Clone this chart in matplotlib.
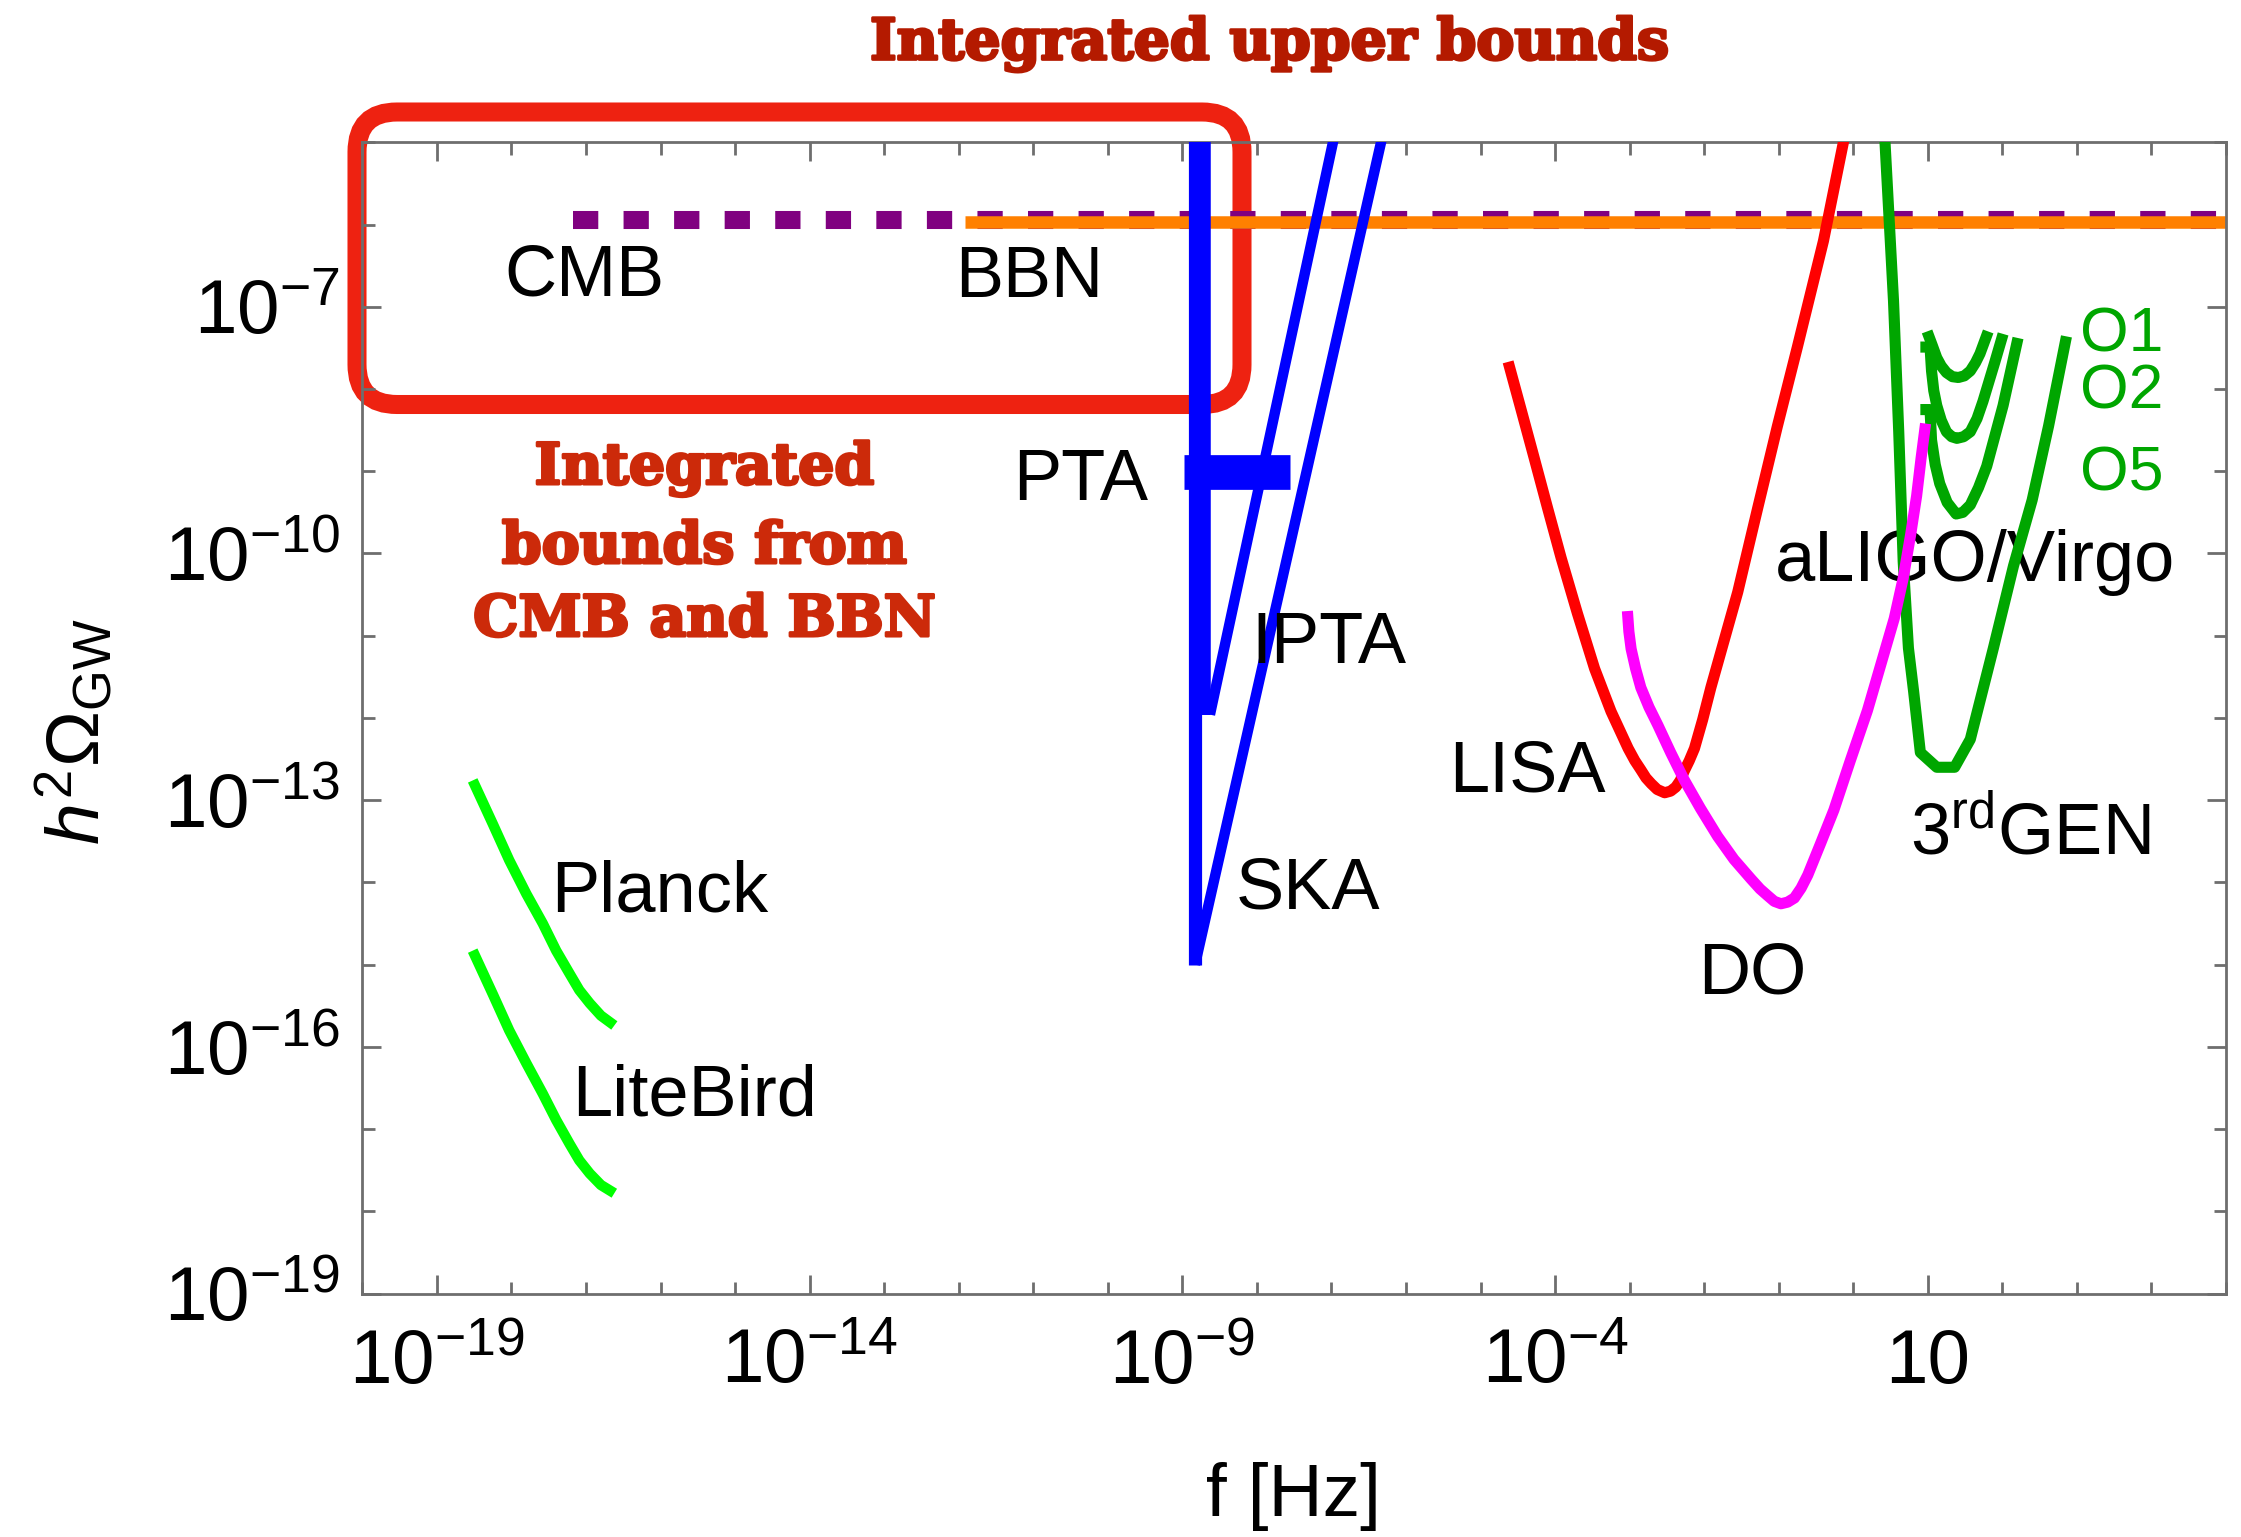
import numpy as np
import matplotlib
matplotlib.use('Agg')
import matplotlib.pyplot as plt
import matplotlib.patheffects as pe
from matplotlib.patches import FancyBboxPatch
from matplotlib.ticker import FixedLocator, FuncFormatter, NullFormatter

plt.rcParams['font.family'] = ['Liberation Sans', 'DejaVu Sans']
plt.rcParams['mathtext.fontset'] = 'custom'
plt.rcParams['mathtext.rm'] = 'Liberation Sans'
plt.rcParams['mathtext.it'] = 'Liberation Sans:italic'
plt.rcParams['mathtext.bf'] = 'Liberation Sans:bold'

### curves, as log10(f [Hz]) and log10(h^2 Omega_GW)
cmb_logf = [-17.17, 5.0]
cmb_logo = [-5.94, -5.94]
bbn_logf = [-11.91, 5.0]
bbn_logo = [-5.97, -5.97]

planck_logf = [-18.52, -18.25, -18.03, -17.80, -17.58, -17.40, -17.22, -17.09, -16.95, -16.80, -16.62]
planck_logo = [-12.76, -13.29, -13.73, -14.14, -14.50, -14.83, -15.11, -15.31, -15.47, -15.62, -15.74]
litebird_logf = [-18.52, -18.25, -18.03, -17.80, -17.58, -17.40, -17.22, -17.09, -16.95, -16.80, -16.62]
litebird_logo = [-14.83, -15.36, -15.80, -16.20, -16.57, -16.89, -17.18, -17.38, -17.54, -17.68, -17.78]

pta_logf = [-8.77, -8.77]
pta_logo = [-4.9, -11.96]
pta_bar_logf = [-8.98, -7.55]
pta_bar_logo = [-9.01, -9.01]
ipta_logf = [-8.63, -6.956]
ipta_logo = [-11.96, -4.9]
ska_edge_logf = [-8.83, -8.83]
ska_edge_logo = [-4.9, -15.0]
ska_logf = [-8.83, -6.31]
ska_logo = [-15.0, -4.9]

lisa_logf = [-4.63, -4.45, -4.28, -4.10, -3.92, -3.70, -3.47, -3.25, -3.02, -2.93, -2.85, -2.78,
             -2.71, -2.63, -2.53, -2.45, -2.38, -2.32, -2.27, -2.20, -2.13, -2.02, -1.91, -1.73,
             -1.55, -1.28, -1.02, -0.75, -0.40, -0.11]
lisa_logo = [-7.67, -8.27, -8.84, -9.45, -10.05, -10.73, -11.40, -11.92, -12.37, -12.52, -12.63, -12.73,
             -12.80, -12.87, -12.91, -12.89, -12.84, -12.76, -12.65, -12.52, -12.37, -12.02, -11.63, -11.05,
             -10.47, -9.44, -8.46, -7.49, -6.20, -4.90]

do_logf = [-3.03, -3.01, -2.98, -2.92, -2.85, -2.74, -2.62, -2.45, -2.27, -2.05, -1.82, -1.60,
           -1.37, -1.25, -1.15, -1.06, -0.97, -0.88, -0.79, -0.70, -0.61, -0.44, -0.26, -0.04,
           0.19, 0.37, 0.55, 0.67, 0.77, 0.85, 0.91, 0.97]
do_logo = [-10.70, -10.95, -11.16, -11.40, -11.63, -11.87, -12.09, -12.42, -12.75, -13.10, -13.44, -13.72,
           -13.96, -14.08, -14.16, -14.23, -14.26, -14.24, -14.19, -14.07, -13.91, -13.53, -13.12, -12.52,
           -11.91, -11.35, -10.79, -10.30, -9.77, -9.30, -8.84, -8.42]

gen3_logf = [0.42, 0.54, 0.61, 0.67, 0.74, 0.81, 0.90, 1.12, 1.36, 1.57, 1.88, 2.15, 2.40, 2.62, 2.86]
gen3_logo = [-4.9, -6.93, -8.52, -10.10, -11.15, -11.68, -12.42, -12.60, -12.60, -12.26,
             -11.15, -10.15, -9.35, -8.45, -7.36]

o1_logf = [0.99, 1.06, 1.12, 1.18, 1.25, 1.33, 1.41, 1.49, 1.57, 1.64, 1.70, 1.81]
o1_logo = [-7.30, -7.47, -7.62, -7.72, -7.80, -7.85, -7.86, -7.84, -7.78, -7.68, -7.57, -7.30]
o2_logf = [0.90, 1.03, 1.05, 1.08, 1.12, 1.18, 1.25, 1.32, 1.39, 1.48, 1.57, 1.66, 1.74, 1.90, 2.01]
o2_logo = [-7.49, -7.49, -7.78, -8.02, -8.20, -8.38, -8.52, -8.58, -8.60, -8.58, -8.52, -8.36, -8.15, -7.67, -7.33]
o5_logf = [0.90, 1.03, 1.05, 1.10, 1.16, 1.26, 1.38, 1.47, 1.57, 1.68, 1.79, 2.01, 2.21]
o5_logo = [-8.25, -8.25, -8.62, -8.92, -9.15, -9.38, -9.52, -9.50, -9.41, -9.20, -8.94, -8.20, -7.38]

x_major = [-19, -14, -9, -4, 1]
y_major = [-19, -16, -13, -10, -7]


def draw(logf, logo, **kw):
    kw.setdefault('solid_capstyle', 'butt')
    kw.setdefault('solid_joinstyle', 'round')
    ax.plot(10.0 ** np.asarray(logf), 10.0 ** np.asarray(logo), **kw)


fig = plt.figure(figsize=(22.41, 15.37), dpi=100)
ax = fig.add_axes([0.1617, 0.1584, 0.8316, 0.749])
ax.set_xscale('log')
ax.set_yscale('log')
ax.set_xlim(1e-20, 1e5)
ax.set_ylim(1e-19, 1e-5)

# integrated bounds
draw(cmb_logf, cmb_logo, color='#800080', lw=13, dashes=(1.4, 1.4), dash_capstyle='butt', zorder=1.9)
draw(bbn_logf, bbn_logo, color='#FF8000', lw=9, zorder=2.0)

# red rounded box (placed in inches)
box = FancyBboxPatch((3.57, 11.325), 8.85, 2.925, boxstyle='round,pad=0,rounding_size=0.4',
                     transform=fig.dpi_scale_trans, fill=False, ec='#EE2211', lw=13.7,
                     clip_on=False, zorder=1.5)
ax.add_patch(box)

# CMB experiments
draw(planck_logf, planck_logo, color='#00FF00', lw=7.5, zorder=3)
draw(litebird_logf, litebird_logo, color='#00FF00', lw=7.5, zorder=3)

# pulsar timing
draw(ska_edge_logf, ska_edge_logo, color='#0000FF', lw=9.5, zorder=3)
draw(ska_logf, ska_logo, color='#0000FF', lw=7.5, zorder=3)
draw(pta_logf, pta_logo, color='#0000FF', lw=15.5, zorder=3)
draw(ipta_logf, ipta_logo, color='#0000FF', lw=7.5, zorder=3)
draw(pta_bar_logf, pta_bar_logo, color='#0000FF', lw=25, zorder=3)

# interferometers
draw(lisa_logf, lisa_logo, color='#FF0000', lw=8, zorder=3)
for lf, lo in [(gen3_logf, gen3_logo), (o1_logf, o1_logo), (o2_logf, o2_logo), (o5_logf, o5_logo)]:
    draw(lf, lo, color='#00A600', lw=8, zorder=3)
draw(do_logf, do_logo, color='#FF00FF', lw=8, zorder=3.1)


# labels
def label(lf, lo, s, size=52, color='black', z=2.1):
    ax.text(10.0 ** lf, 10.0 ** lo, s, ha='center', va='baseline', fontsize=size,
            color=color, zorder=z)


label(-17.02, -6.86, 'CMB')
label(-11.05, -6.88, 'BBN')
label(-10.36, -9.35, 'PTA')
label(-7.03, -11.33, 'IPTA', z=5)
label(-7.32, -14.32, 'SKA')
label(-16.01, -14.35, 'Planck')
label(-15.55, -16.84, 'LiteBird')
label(-4.37, -12.89, 'LISA')
label(-1.36, -15.35, 'DO')
label(1.63, -10.34, 'aLIGO/Virgo')
label(2.37, -13.66, r'3$^{\mathrm{rd}}$GEN')
label(3.60, -7.54, 'O1', size=45, color='#00A600')
label(3.60, -8.24, 'O2', size=45, color='#00A600')
label(3.60, -9.24, 'O5', size=45, color='#00A600')


# axes styling
def fmt(v, pos):
    e = int(round(np.log10(v)))
    return '10' if e == 1 else r'$10^{%d}$' % e


ax.xaxis.set_major_locator(FixedLocator([10.0 ** e for e in x_major]))
ax.xaxis.set_minor_locator(FixedLocator([10.0 ** e for e in range(-20, 6)]))
ax.yaxis.set_major_locator(FixedLocator([10.0 ** e for e in y_major]))
ax.yaxis.set_minor_locator(FixedLocator([10.0 ** e for e in range(-19, -4)]))
ax.xaxis.set_major_formatter(FuncFormatter(fmt))
ax.yaxis.set_major_formatter(FuncFormatter(fmt))
ax.xaxis.set_minor_formatter(NullFormatter())
ax.yaxis.set_minor_formatter(NullFormatter())

ax.tick_params(which='both', direction='in', top=True, right=True, colors='#6E6E6E',
               labelcolor='black', width=2, labelsize=55)
ax.tick_params(which='major', length=13.7)
ax.tick_params(which='minor', length=9)
ax.tick_params(axis='x', which='major', pad=25)
ax.tick_params(axis='y', which='major', pad=16)
for s in ax.spines.values():
    s.set_color('#6E6E6E')
    s.set_linewidth(2)

fig.text(0.033, 0.524, r'$h^2\Omega_{\mathrm{GW}}$', rotation=90, ha='center', va='center', fontsize=54)
fig.text(0.577, 0.0137, 'f [Hz]', ha='center', va='baseline', fontsize=54)

# red annotations
heavy = [pe.withStroke(linewidth=2.2, foreground='#B41A00')]
fig.text(0.5667, 0.9614, 'Integrated upper bounds', ha='center', va='baseline',
         fontsize=41, fontweight='bold', family='DejaVu Serif', color='#B41A00', path_effects=heavy)
heavy2 = [pe.withStroke(linewidth=2.2, foreground='#CC2A0A')]
for yy, s in [(0.6851, 'Integrated'), (0.6337, 'bounds from'), (0.5862, 'CMB and BBN')]:
    fig.text(0.3144, yy, s, ha='center', va='baseline', fontsize=41, fontweight='bold',
             family='DejaVu Serif', color='#CC2A0A', path_effects=heavy2)

fig.savefig('out.png', dpi=100)
